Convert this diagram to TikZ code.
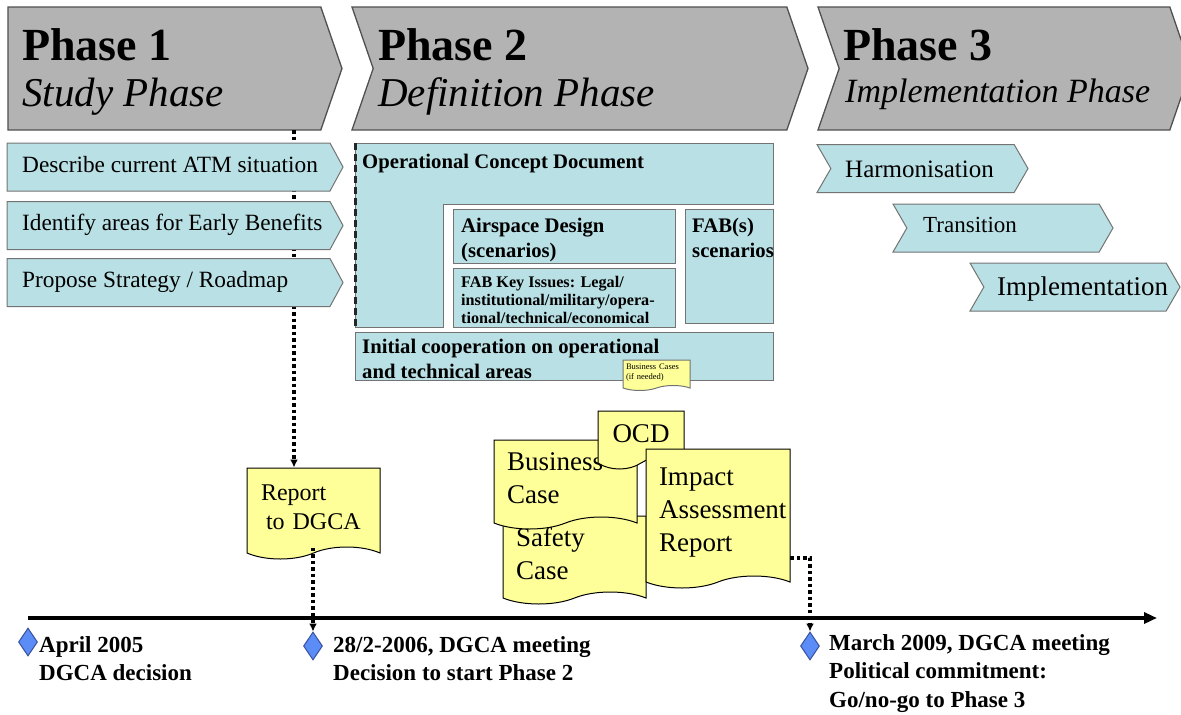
\documentclass[tikz,border=0pt]{standalone}
\usepackage{fontspec}
\setmainfont{Liberation Serif}
\usepackage{tikz}
\usetikzlibrary{shapes.symbols, shapes.geometric, arrows.meta, positioning, calc}

\definecolor{phasegray}{RGB}{179,179,179}
\definecolor{phaseline}{RGB}{80,80,80}
\definecolor{stepblue}{RGB}{185,224,228}
\definecolor{boxline}{RGB}{115,115,115}
\definecolor{docyellow}{RGB}{255,255,153}
\definecolor{mileblue}{RGB}{92,140,245}
\definecolor{mileline}{RGB}{55,80,160}

\tikzset{
  phase/.style={signal, signal to=east, signal pointer angle=142, draw=phaseline, fill=phasegray, line width=1.3, minimum height=123, inner sep=0},
  stepbox/.style={signal, signal to=east, draw=boxline, fill=stepblue, line width=1, minimum height=48, inner sep=0},
  area/.style={rectangle, draw=boxline, fill=stepblue, line width=1, inner sep=0},
  docbox/.style={tape, tape bend top=none, tape bend bottom=in and out, tape bend height=12, draw=black, fill=docyellow, line width=1, align=left, inner xsep=13, inner ysep=0, font=\fontsize{27}{33}\selectfont},
  txt/.style={inner sep=0, anchor=base west},
  blk/.style={inner sep=0, anchor=north west, align=left},
  ptitle/.style={txt, font=\fontsize{46}{50}\selectfont\bfseries},
  psub/.style={txt, font=\fontsize{41}{45}\selectfont\itshape},
  dotline/.style={line width=3.5, dash pattern=on 3.5 off 3, -{Latex[length=8,width=8]}},
  timeline/.style={line width=4, -{Triangle[length=13,width=11]}},
  milestone/.style={diamond, draw=mileline, fill=mileblue, line width=1, minimum width=19, minimum height=28, inner sep=0},
  datelabel/.style={blk, font=\fontsize{23}{28.5}\selectfont\bfseries}
}

\begin{document}
\begin{tikzpicture}[x=1pt, y=-1pt]
  \useasboundingbox (0,0) rectangle (1181,715);

  % phase headers
  \node[phase, signal from=nowhere, minimum width=334] (phase1) at (164.4,68.5) {};
  \node[phase, signal from=west, minimum width=456] (phase2) at (580,68.5) {};
  \node[phase, signal from=west, minimum width=373] (phase3) at (1004.5,68.5) {};
  \node[ptitle] (p1a) at (22,60) {Phase 1};
  \node[psub] (p1b) at (22,106) {Study Phase};
  \node[ptitle] (p2a) at (378,60) {Phase 2};
  \node[psub] (p2b) at (378,106) {Definition Phase};
  \node[ptitle] (p3a) at (843,60) {Phase 3};
  \node[txt, font=\fontsize{34}{38}\selectfont\itshape] (p3b) at (845,102) {Implementation Phase};

  % report of phase 1
  \node[docbox, font=\fontsize{24}{29}\selectfont, inner xsep=14, minimum width=133, minimum height=91, text width=105] (report) at (313.5,507.5) {Report\\\hspace*{5pt}to DGCA};
  \coordinate (p1foot) at (294,130);
  \draw[dotline] (p1foot) -- (p1foot |- report.north);

  % phase 1 steps
  \foreach \n/\cy/\txt in {s1/167/{Describe current ATM situation}, s2/225.5/{Identify areas for Early Benefits}, s3/282.5/{Propose Strategy / Roadmap}} {
    \node[stepbox, signal pointer angle=123, minimum width=336] (\n) at (168.5,\cy) {};
    \node[txt, font=\fontsize{23.3}{26}\selectfont] (\n txt) at (22,\cy+5) {\txt};
  }

  % phase 2 areas
  \filldraw[draw=boxline, fill=stepblue, line width=1] (355,143) -- (773,143) -- (773,204) -- (443,204) -- (443,327) -- (355,327) -- cycle;
  \draw[black!85, line width=3, dash pattern=on 7 off 4] (355,143) -- (355,327);
  \node[area, minimum width=222, minimum height=54] (airspace) at (564,236) {};
  \node[area, minimum width=222, minimum height=59] (fabkey) at (564,297.5) {};
  \node[area, minimum width=88, minimum height=114] (fabs) at (729,266) {};
  \node[area, minimum width=418, minimum height=48] (coop) at (564,356) {};
  \node[blk, font=\fontsize{20.7}{25}\selectfont\bfseries] (ocdtxt) at (362,153.5) {Operational Concept Document};
  \node[blk, font=\fontsize{20.7}{25}\selectfont\bfseries] (airtxt) at (461,217.5) {Airspace Design\\(scenarios)};
  \node[blk, font=\fontsize{16.2}{18}\selectfont\bfseries] (keytxt) at (461,275.7) {FAB Key Issues: Legal/\\institutional/military/opera-\\tional/technical/economical};
  \node[blk, font=\fontsize{20.7}{25}\selectfont\bfseries] (fabtxt) at (692,217.5) {FAB(s)\\scenarios};
  \node[blk, font=\fontsize{20.7}{25}\selectfont\bfseries] (cooptxt) at (362,338.5) {Initial cooperation on operational\\and technical areas};
  \node[docbox, draw=boxline, tape bend height=5, inner xsep=3, minimum width=67, minimum height=30.5, text width=61, font=\fontsize{8.5}{10}\selectfont] (note) at (656.5,372.75) {Business Cases\\(if needed)};

  % phase 3 steps
  \foreach \n/\cx/\cy/\w/\tx/\by/\fs/\txt in {h1/922.5/168.5/211/845/177/25/Harmonisation, h2/1003/228/220/923/232/23/Transition, h3/1075/287/210/997/295/27/Implementation} {
    \node[stepbox, signal from=west, signal pointer angle=120, minimum width=\w] (\n) at (\cx,\cy) {};
    \node[txt, font=\fontsize{\fs}{\fs}\selectfont] (\n txt) at (\tx,\by) {\txt};
  }

  % documents of phase 2
  \node[docbox, minimum width=143, minimum height=88, text width=117] (safety) at (574.5,554) {Safety\\Case};
  \node[docbox, minimum width=143, minimum height=89, text width=117] (bcase) at (565.5,478.5) {Business\\Case};
  \node[docbox, align=center, minimum width=86, minimum height=58, text width=60] (ocd) at (641,434) {OCD};
  \node[docbox, minimum width=144, minimum height=139, text width=118] (impact) at (718,512.5) {Impact\\Assessment\\Report};

  % time line
  \coordinate (t0) at (28,618);
  \coordinate (t1) at (1157,618);
  \draw[timeline] (t0) -- (t1);
  \foreach \n/\x/\y in {m1/28/642, m2/313/646, m3/810/646}
    \node[milestone] (\n) at (\x,\y) {};
  \node[datelabel] (l1) at (39,636) {April 2005\\DGCA decision};
  \node[datelabel] (l2) at (333,636) {28/2-2006, DGCA meeting\\Decision to start Phase 2};
  \node[datelabel] (l3) at (829,634) {March 2009, DGCA meeting\\Political commitment:\\Go/no-go to Phase 3};

  \draw[dotline] (report.south -| m2) -- (m2.north);
  \coordinate (impout) at (790,558);
  \draw[dotline] (impout) -| (m3.north);
\end{tikzpicture}
\end{document}
